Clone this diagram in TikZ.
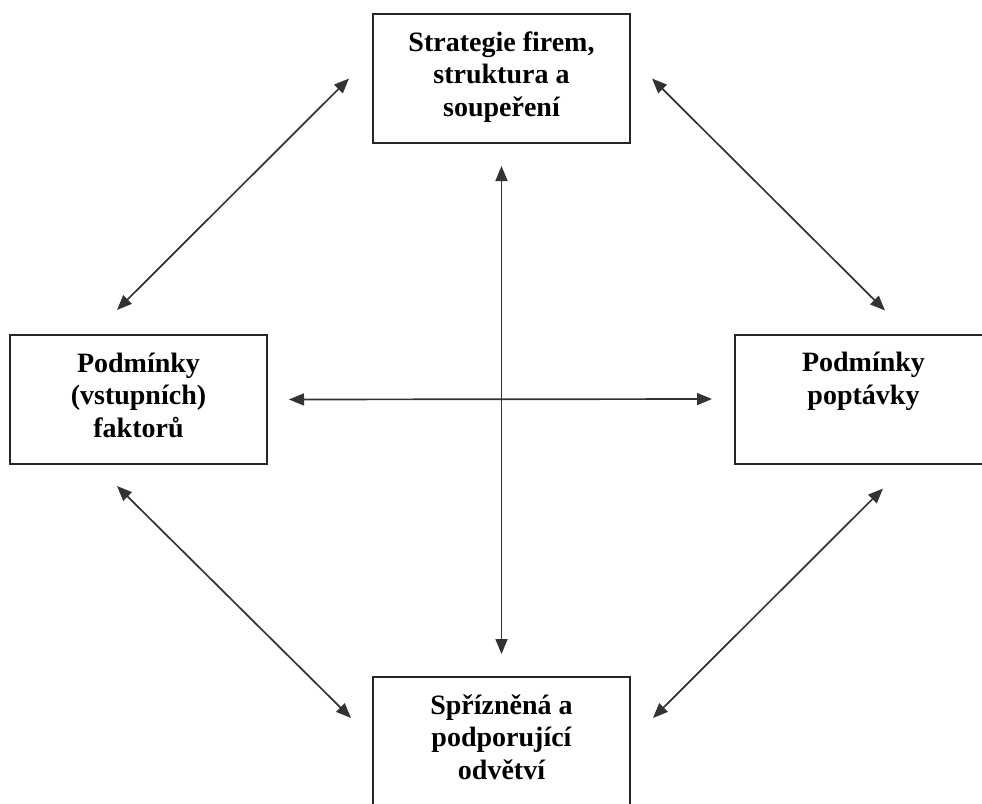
\documentclass[tikz,border=0pt]{standalone}
\usepackage{fontspec}
\setmainfont{Liberation Serif}
\usetikzlibrary{arrows.meta}

\newcommand{\boxtext}[1]{\parbox[c][129pt][t]{257pt}{\centering\fontsize{28}{32.5}\selectfont\bfseries\rule{0pt}{37pt}#1}}

\begin{document}
\begin{tikzpicture}[x=1pt, y=-1pt,
    box/.style={draw=black!85, line width=2pt, inner sep=0pt, minimum width=257pt, minimum height=129pt},
    link/.style={draw=black!80, line width=1.7pt, {Triangle[length=15pt,width=12pt]}-{Triangle[length=15pt,width=12pt]}}]
    \useasboundingbox (0,0) rectangle (982,803);
    \node[box] (strat) at (501.5,78.5) {\boxtext{Strategie firem,\\struktura a\\soupeření}};
    \node[box] (factor) at (138.5,399.5) {\boxtext{Podmínky\\(vstupních)\\faktorů}};
    \node[box] (demand) at (863.5,399) {\boxtext{Podmínky\\poptávky}};
    \node[box] (related) at (501.5,741.5) {\boxtext{Spřízněná a\\podporující\\odvětví}};
    \draw[link] ([shift={(-23,0)}]strat.west) -- ([shift={(-21.5,-24)}]factor.north);
    \draw[link] ([shift={(21,0)}]strat.east) -- ([shift={(21.5,-23)}]demand.north);
    \draw[link] ([shift={(-21.5,21)}]factor.south) -- ([shift={(-21,-23.5)}]related.west);
    \draw[link] ([shift={(19.5,24)}]demand.south) -- ([shift={(22,-23.5)}]related.east);
    \draw[link, shorten <=22pt, shorten >=22pt] (strat.south) -- (related.north);
    \draw[link, shorten <=21pt, shorten >=22pt] (factor.east) -- (demand.west);
\end{tikzpicture}
\end{document}
